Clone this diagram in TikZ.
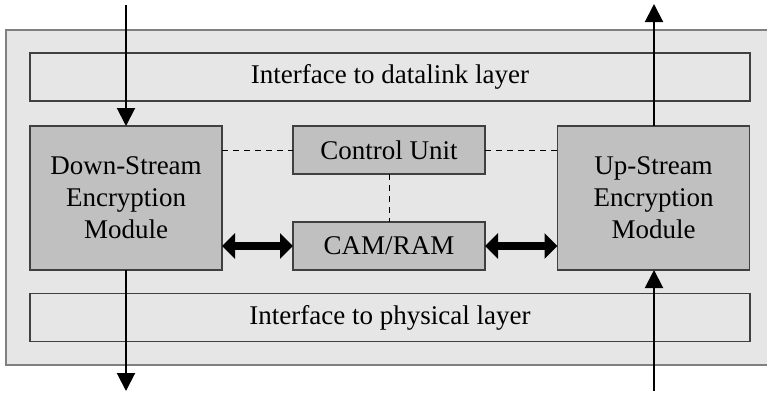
\documentclass[tikz,border=0pt]{standalone}
\usepackage{fontspec}
\setmainfont{Liberation Serif}
\usetikzlibrary{arrows.meta}
\definecolor{outerfill}{HTML}{E6E6E6}
\definecolor{modfill}{HTML}{C0C0C0}
\definecolor{bordergray}{HTML}{808080}
\definecolor{darkborder}{HTML}{404040}
\tikzset{
  iface/.style={draw=darkborder, line width=1.3pt, fill=outerfill, inner sep=0pt, outer sep=0pt,
    minimum width=720pt, minimum height=48pt, font=\fontsize{27}{32}\selectfont},
  module/.style={draw=darkborder, line width=1.2pt, fill=modfill, inner sep=0pt, outer sep=0pt,
    minimum width=192pt, minimum height=144pt, align=center, font=\fontsize{27}{32}\selectfont},
  smallbox/.style={draw=darkborder, line width=1.2pt, fill=modfill, inner sep=0pt, outer sep=0pt,
    minimum width=192pt, minimum height=48pt, font=\fontsize{27}{32}\selectfont},
  flow/.style={line width=2pt, -{Triangle[length=18pt,width=18pt]}},
  bus/.style={line width=8pt, {Triangle[length=13pt,width=25pt]}-{Triangle[length=13pt,width=25pt]}},
  ctrl/.style={line width=0.9pt, dash pattern=on 6pt off 5pt},
}
\begin{document}
\begin{tikzpicture}[x=1pt,y=-1pt]
\useasboundingbox (0,0) rectangle (767,392);
\fill[outerfill] (6,30) rectangle (780,365);
\draw[bordergray, line width=2pt] (780,30) -- (6,30) -- (6,365) -- (780,365);
\node[iface] (dl) at (390,77) {Interface to datalink layer};
\node[iface] (ph) at (390,317.5) {Interface to physical layer};
\node[module] (ds) at (126,198) {Down-Stream\\Encryption\\Module};
\node[module] (us) at (653.5,198) {Up-Stream\\Encryption\\Module};
\node[smallbox] (cu) at (389,150) {Control Unit};
\node[smallbox] (cam) at (389,246) {CAM/RAM};
\coordinate (dsin) at (126,5);
\coordinate (dsout) at (126,391);
\coordinate (usin) at (654,391);
\coordinate (usout) at (654,4);
\draw[flow] (dsin) -- (ds.north);
\draw[flow] (ds.south) -- (dsout);
\draw[flow] (usin) -- (us.south -| usin);
\draw[flow] (us.north -| usout) -- (usout);
\draw[bus] (ds.east |- cam) -- (cam.west);
\draw[bus] (cam.east) -- (us.west |- cam);
\draw[ctrl] (ds.east |- cu) -- (cu.west);
\draw[ctrl] (cu.east) -- (us.west |- cu);
\draw[ctrl] (cu.south) -- (cam.north);
\end{tikzpicture}
\end{document}
